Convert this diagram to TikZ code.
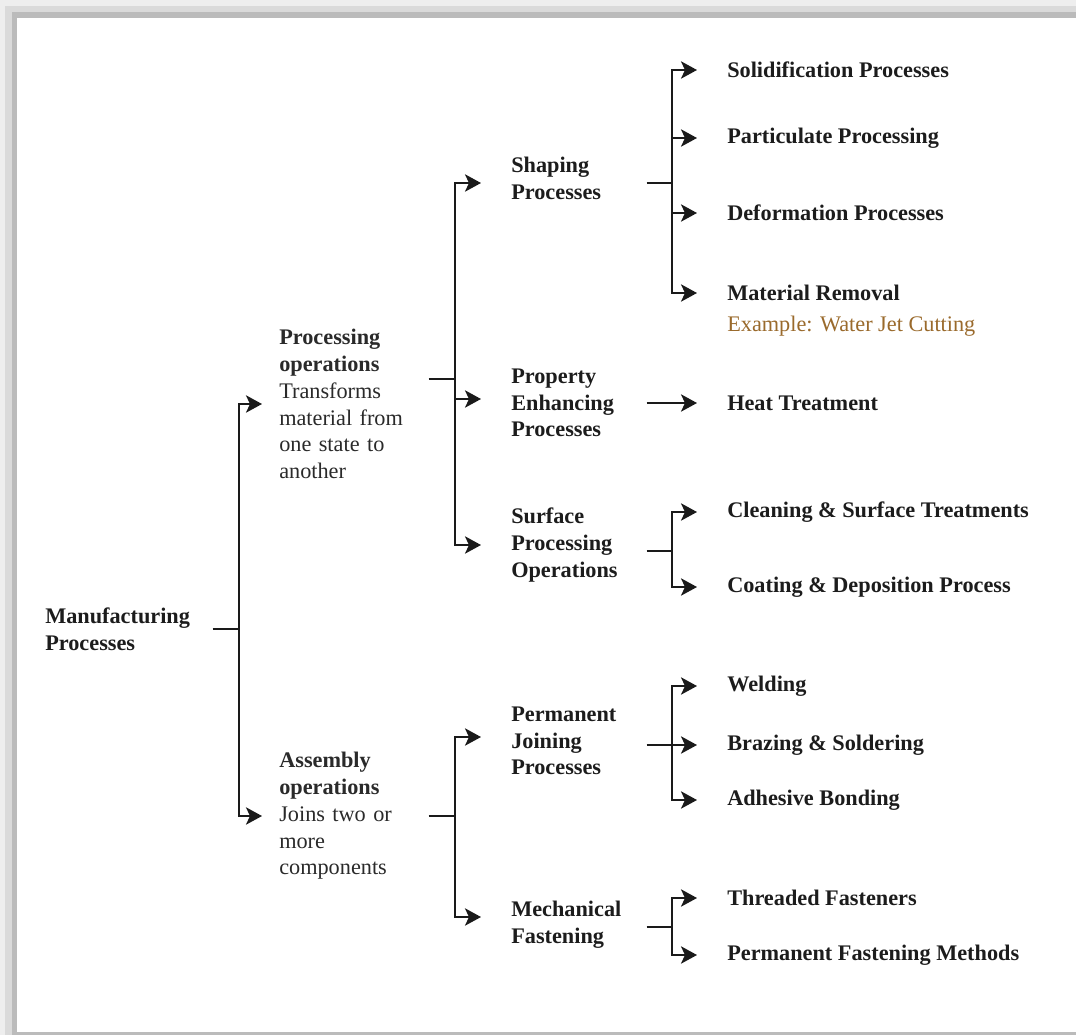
\documentclass[tikz,border=0pt]{standalone}
\usepackage{fontspec}
\setmainfont{Liberation Serif}
\usepackage{xcolor}
\usepackage{tikz}
\usetikzlibrary{positioning,arrows.meta,calc}
\definecolor{MPtext}{HTML}{1C1C1C}
\definecolor{MPbody}{HTML}{2A2A2A}
\definecolor{MPline}{HTML}{1A1A1A}
\definecolor{MPbrown}{HTML}{9A6A2C}
\definecolor{MPshadeA}{HTML}{EEEEEE}
\definecolor{MPshadeB}{HTML}{DADADA}
\definecolor{MPshadeC}{HTML}{BBBBBB}
\newcommand{\mpfont}{\fontsize{16.7pt}{20.1pt}\selectfont}
\tikzset{
  headbox/.style={anchor=west, inner sep=0pt, align=left, font=\mpfont\bfseries, text=MPtext},
  opbox/.style={anchor=west, inner sep=0pt, align=left, font=\mpfont, text=MPbody},
  leafbox/.style={anchor=west, inner sep=0pt, font=\mpfont\bfseries, text=MPtext},
  notebox/.style={anchor=west, inner sep=0pt, font=\mpfont, text=MPbrown},
  colA/.style={text width=125.25pt},
  colB/.style={text width=111.75pt},
  colC/.style={text width=101.25pt},
  treeline/.style={line width=1.5pt, draw=MPline},
  treearr/.style={treeline, -{Stealth[length=12pt, width=13pt, inset=3pt]}}
}

\begin{document}
\begin{tikzpicture}[x=0.75pt, y=-0.75pt]
  \useasboundingbox (0,0) rectangle (1076,1035);
  % page frame with its shadow
  \fill[MPshadeA] (0,0) rectangle (1090,1045);
  \fill[MPshadeB] (5,6) rectangle (1090,1045);
  \fill[MPshadeC] (12,12) rectangle (1090,1045);
  \fill[white] (17,18) rectangle (1090,1032);

  % level 0 and 1
  \node[headbox, colA] (mfg) at (45,629) {Manufacturing\\Processes};
  \node[opbox, colB] (proc) at (279,404) {\textbf{Processing}\\\textbf{operations}\\Transforms\\material from\\one state to\\another};
  \node[opbox, colB] (asm) at (279,816) {\textbf{Assembly}\\\textbf{operations}\\Joins two or\\more\\components};

  % level 2
  \node[headbox, colC] (shp) at (511,178) {Shaping\\Processes};
  \node[headbox, colC] (prop) at (511,403) {Property\\Enhancing\\Processes};
  \node[headbox, colC] (surf) at (511,545) {Surface\\Processing\\Operations};
  \node[headbox, colC] (perm) at (511,741) {Permanent\\Joining\\Processes};
  \node[headbox, colC] (mech) at (511,925) {Mechanical\\Fastening};

  % leaves
  \node[leafbox] (soli) at (727,70) {Solidification Processes};
  \node[leafbox] (part) at (727,138) {Particulate Processing};
  \node[leafbox] (defo) at (727,213) {Deformation Processes};
  \node[leafbox] (matl) at (727,293) {Material Removal};
  \node[notebox] (matlex) at (727,326) {Example: Water Jet Cutting};
  \node[leafbox] (heat) at (727,403) {Heat Treatment};
  \node[leafbox] (clean) at (727,512) {Cleaning \& Surface Treatments};
  \node[leafbox] (coat) at (727,587) {Coating \& Deposition Process};
  \node[leafbox] (weld) at (727,686) {Welding};
  \node[leafbox] (braz) at (727,745) {Brazing \& Soldering};
  \node[leafbox] (adhe) at (727,800) {Adhesive Bonding};
  \node[leafbox] (thre) at (727,898) {Threaded Fasteners};
  \node[leafbox] (pfm) at (727,955) {Permanent Fastening Methods};

  % forks
  \draw[treeline] (mfg.east) -- ++(26,0) coordinate (mfgfork);
  \draw[treearr] (mfgfork) |- ($(proc.west)+(-17,0)$); \draw[treearr] (mfgfork) |- ($(asm.west)+(-17,0)$);

  \draw[treeline] ($(proc.east)+(0,-25)$) -- ++(26,0) coordinate (procfork);
  \draw[treearr] (procfork) |- ($(shp.west)+(-30,5)$); \draw[treearr] (procfork) |- ($(prop.west)+(-30,-4)$); \draw[treearr] (procfork) |- ($(surf.west)+(-30,0)$);

  \draw[treeline] (asm.east) -- ++(26,0) coordinate (asmfork);
  \draw[treearr] (asmfork) |- ($(perm.west)+(-30,-4)$); \draw[treearr] (asmfork) |- ($(mech.west)+(-30,-8)$);

  \draw[treeline] ($(shp.east)+(0,5)$) -- ++(25,0) coordinate (shpfork);
  \draw[treearr] (shpfork) |- ($(soli.west)+(-30,0)$); \draw[treearr] (shpfork) |- ($(part.west)+(-30,0)$); \draw[treearr] (shpfork) |- ($(defo.west)+(-30,0)$); \draw[treearr] (shpfork) |- ($(matl.west)+(-30,0)$);

  \draw[treearr] (prop.east) -- ($(heat.west)+(-30,0)$);

  \draw[treeline] ($(surf.east)+(0,6)$) -- ++(25,0) coordinate (surffork);
  \draw[treearr] (surffork) |- ($(clean.west)+(-30,0)$); \draw[treearr] (surffork) |- ($(coat.west)+(-30,0)$);

  \draw[treeline] ($(perm.east)+(0,4)$) -- ++(25,0) coordinate (permfork);
  \draw[treearr] (permfork) |- ($(weld.west)+(-30,0)$); \draw[treearr] (permfork) |- ($(braz.west)+(-30,0)$); \draw[treearr] (permfork) |- ($(adhe.west)+(-30,0)$);

  \draw[treeline] ($(mech.east)+(0,2)$) -- ++(25,0) coordinate (mechfork);
  \draw[treearr] (mechfork) |- ($(thre.west)+(-30,0)$); \draw[treearr] (mechfork) |- ($(pfm.west)+(-30,0)$);
\end{tikzpicture}
\end{document}
